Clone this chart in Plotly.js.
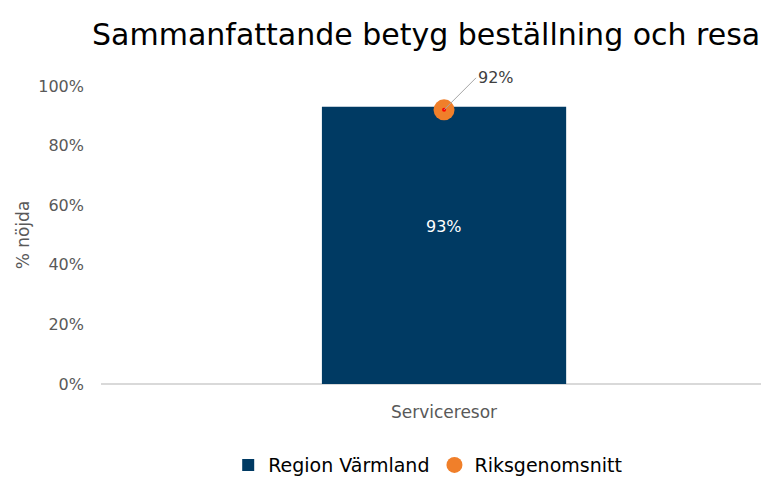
<!DOCTYPE html>
<html><head><meta charset="utf-8">
<script src="https://cdn.plot.ly/plotly-3.0.1.min.js"></script>
<style>html,body{margin:0;padding:0;background:#fff}#c{width:761px;height:478px}</style>
</head><body><div id="c"></div>
<script>
const categories = ["Serviceresor"];
const regionValues = [0.93];
const riksValues = [0.92];
const regionName = "Region Värmland";
const riksName = "Riksgenomsnitt";
const yTicks = [0, 0.2, 0.4, 0.6, 0.8, 1.0];
const yTickLabels = ["0%", "20%", "40%", "60%", "80%", "100%"];

const font = "'DejaVu Sans', 'Noto Sans', sans-serif";
const traces = [
  {type: "bar", x: categories, y: regionValues, name: regionName,
   marker: {color: "#003a63"}, width: 0.356, textposition: "none",
   hoverinfo: "skip"},
  {type: "scatter", mode: "markers", x: categories, y: riksValues, name: riksName,
   marker: {color: "#f07f2a", size: 21, symbol: "circle"}},
  {type: "scatter", mode: "markers", x: categories, y: riksValues, name: riksName,
   showlegend: false, marker: {color: "#ff0000", size: 4, symbol: "circle"}}
];
const annotations = [{
    x: categories[0], y: riksValues[0], xref: "x", yref: "y",
    text: Math.round(riksValues[0]*100) + "%", showarrow: true, arrowhead: 0,
    arrowwidth: 1, arrowcolor: "#a6a6a6", ax: 32, ay: -32, xanchor: "left",
    font: {size: 16, color: "#404040", family: font}, standoff: 0
  }];
regionValues.forEach((v, i) => annotations.push({
  x: categories[i], y: v / 2, xref: "x", yref: "y", yshift: 19, showarrow: false,
  text: Math.round(v*100) + "%", font: {size: 16, color: "#ffffff", family: font}
}));
const layout = {
  width: 761, height: 478,
  margin: {l: 101, r: 0, t: 86, b: 94},
  paper_bgcolor: "#ffffff", plot_bgcolor: "#ffffff",
  font: {family: font, color: "#595959", size: 16},
  title: {text: "Sammanfattande betyg beställning och resa", x: 0.56, xanchor: "center",
          y: 0.927, yanchor: "middle", font: {size: 30, color: "#000000", family: font}},
  xaxis: {range: [-0.5, 0.462], showgrid: false, zeroline: false, showline: false,
          ticks: "", ticklabelstandoff: 16, tickfont: {size: 17, color: "#595959"}, fixedrange: true},
  yaxis: {range: [0, 1], tickvals: yTicks, ticktext: yTickLabels, showgrid: false,
          zeroline: true, zerolinecolor: "#d9d9d9", zerolinewidth: 1.5,
          showline: false, ticks: "", ticklen: 0, ticklabelstandoff: 16,
          tickfont: {size: 16, color: "#595959"},
          title: {text: "% nöjda", font: {size: 17, color: "#595959"}, standoff: 4}},
  showlegend: true,
  legend: {orientation: "h", x: 0.495, xanchor: "center", yref: "container", y: 0.027,
           yanchor: "middle", font: {size: 19, color: "#000000"}, itemwidth: 30},
  annotations: annotations
};
Plotly.newPlot("c", traces, layout, {displayModeBar: false, staticPlot: true});
</script></body></html>
